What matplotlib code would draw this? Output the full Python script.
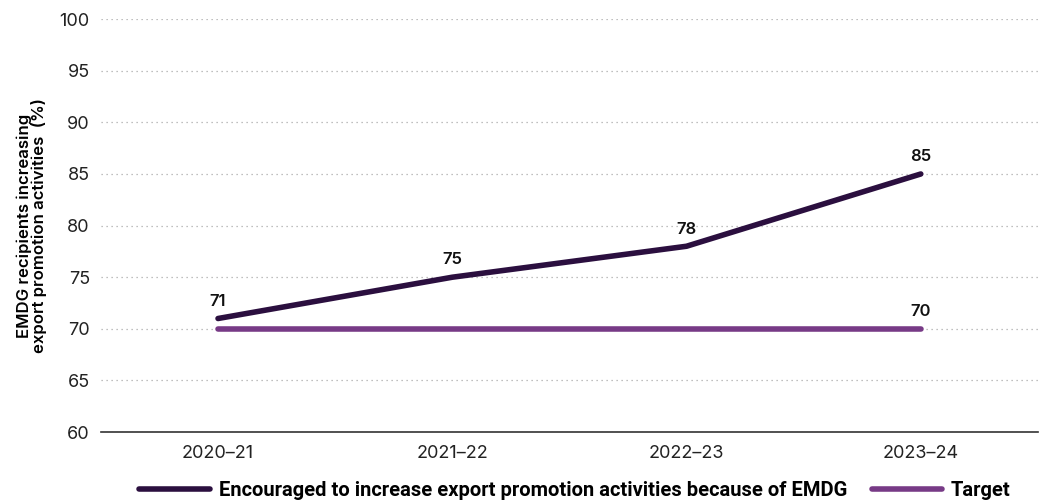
import matplotlib
matplotlib.use("Agg")
import matplotlib.pyplot as plt

# Datos
years = ["2020–21", "2021–22", "2022–23", "2023–24"]
encouraged = [71, 75, 78, 85]
target = [70, 70, 70, 70]

dark = "#2b0f3f"
purple = "#773a86"

plt.rcParams["font.family"] = ["Inter", "DejaVu Sans"]

fig = plt.figure(figsize=(10.4, 5.03), dpi=100)
ax = fig.add_axes([0.097, 0.141, 0.901, 0.821])

x = list(range(len(years)))
ax.plot(x, target, color=purple, lw=4, solid_capstyle="round", label="Target", zorder=3)
ax.plot(x, encouraged, color=dark, lw=4, solid_capstyle="round",
        label="Encouraged to increase export promotion activities because of EMDG", zorder=4)

for xi, v in zip(x, encouraged):
    ax.annotate(str(v), (xi, v), xytext=(0, 7), textcoords="offset points",
                ha="center", va="bottom", fontsize=12, fontweight="semibold", color="#111111")
ax.annotate(str(target[-1]), (x[-1], target[-1]), xytext=(0, 7), textcoords="offset points",
            ha="center", va="bottom", fontsize=12, fontweight="semibold", color="#111111")

ax.set_ylim(60, 100)
ax.set_xlim(-0.5, 3.5)
ax.set_yticks(range(60, 101, 5))
ax.set_xticks(x)
ax.set_xticklabels(years)
ax.tick_params(axis="both", length=0, labelsize=13, colors="#222222")
ax.tick_params(axis="x", pad=9)
ax.tick_params(axis="y", pad=8)
ax.yaxis.grid(True, linestyle=(0, (1, 3)), color="#aaaaaa", lw=0.9)
ax.set_axisbelow(True)
for s in ["top", "right", "left"]:
    ax.spines[s].set_visible(False)
ax.spines["bottom"].set_color("#333333")
ax.spines["bottom"].set_linewidth(1.2)

ax.set_ylabel("EMDG recipients increasing\nexport promotion activities  (%)",
              fontsize=12, fontweight="semibold", linespacing=0.95, labelpad=9)

h, l = ax.get_legend_handles_labels()
leg = fig.legend([h[1], h[0]], [l[1], l[0]], loc="lower center", bbox_to_anchor=(0.553, -0.022),
                 ncol=2, frameon=False, handlelength=3.5, handletextpad=0.45, columnspacing=1.2,
                 borderpad=0.2, prop={"family": ["Roboto", "DejaVu Sans"], "weight": "bold", "size": 14.5})

fig.savefig("out.png", dpi=100)
